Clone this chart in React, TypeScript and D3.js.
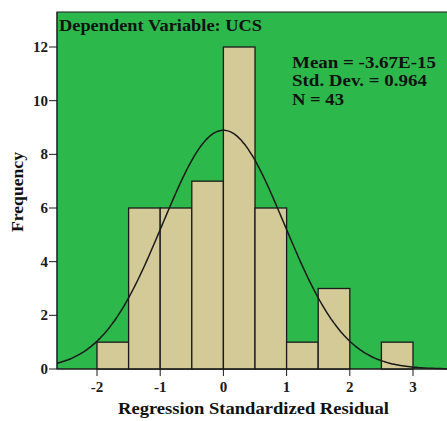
import * as React from 'react';
import * as d3 from 'd3';

// histogram bins (lower edge, width 0.5) and counts
const binStarts = [-2, -1.5, -1, -0.5, 0, 0.5, 1, 1.5, 2, 2.5];
const binCounts = [1, 6, 6, 7, 12, 6, 1, 3, 0, 1];
const binWidth = 0.5;

const xTicks = [-2, -1, 0, 1, 2, 3];
const yTicks = [0, 2, 4, 6, 8, 10, 12];

const statLines = ['Mean = -3.67E-15', 'Std. Dev. = 0.964', 'N = 43'];
const statWidths = [144, 135, 52];
const mean = -3.67e-15;
const stdDev = 0.964;
const n = 43;

const W = 447, H = 421;
const left = 57, top = 12, right = 447, bottom = 369;
const font = '"Liberation Serif", "Times New Roman", serif';

export default function App() {
  const x = d3.scaleLinear().domain([-2, 3]).range([97, 413]);
  const y = d3.scaleLinear().domain([0, 12]).range([bottom, 47]);

  const x0 = x.invert(left), x1 = x.invert(right);
  const curvePts = d3.range(0, 201).map(i => {
    const v = x0 + (x1 - x0) * i / 200;
    const z = (v - mean) / stdDev;
    const f = n * binWidth * Math.exp(-0.5 * z * z) / (stdDev * Math.sqrt(2 * Math.PI));
    return [x(v), y(f)] as [number, number];
  });
  const line = d3.line().curve(d3.curveBasis)(curvePts) || '';

  return (
    <svg width={W} height={H} style={{ position: 'absolute', left: 0, top: 0 }}>
      <rect x={0} y={0} width={W} height={H} fill="#ffffff" />
      <rect x={left} y={top} width={right - left + 2} height={bottom - top} fill="#2db84b" stroke="#1a1a1a" strokeWidth={1} />
      {binStarts.map((s, i) => binCounts[i] > 0 && (
        <rect key={i} x={x(s)} y={y(binCounts[i])} width={x(s + binWidth) - x(s)}
          height={bottom - y(binCounts[i])} fill="#d3ca98" stroke="#1a1a1a" strokeWidth={1.3} />
      ))}
      <path d={line} fill="none" stroke="#1a1a1a" strokeWidth={1.5} />
      <line x1={left} x2={left} y1={top} y2={bottom} stroke="#1a1a1a" />
      <line x1={left} x2={right} y1={bottom} y2={bottom} stroke="#1a1a1a" />
      {yTicks.map(t => (
        <g key={t}>
          <line x1={left - 8} x2={left} y1={y(t)} y2={y(t)} stroke="#1a1a1a" />
          <text x={left - 9} y={y(t) + 5} textAnchor="end" fontFamily={font} fontWeight="bold" fontSize={15} fill="#1a1a1a">{t}</text>
        </g>
      ))}
      {xTicks.map(t => (
        <g key={t}>
          <line x1={x(t)} x2={x(t)} y1={bottom} y2={bottom + 7} stroke="#1a1a1a" />
          <text x={x(t)} y={bottom + 23} textAnchor="middle" fontFamily={font} fontWeight="bold" fontSize={15} fill="#1a1a1a">{t}</text>
        </g>
      ))}
      <text x={59} y={31} fontFamily={font} fontWeight="bold" fontSize={16.5} fill="#111"
        textLength={203} lengthAdjust="spacingAndGlyphs">Dependent Variable: UCS</text>
      {statLines.map((s, i) => (
        <text key={s} x={292} y={67.5 + i * 18.7} fontFamily={font} fontWeight="bold" fontSize={16.5} fill="#111"
          textLength={statWidths[i]} lengthAdjust="spacingAndGlyphs">{s}</text>
      ))}
      <text transform="translate(23, 192) rotate(-90)" textAnchor="middle" fontFamily={font} fontWeight="bold" fontSize={16.5} fill="#111"
        textLength={80} lengthAdjust="spacingAndGlyphs">Frequency</text>
      <text x={118} y={414} fontFamily={font} fontWeight="bold" fontSize={16.5} fill="#111"
        textLength={271} lengthAdjust="spacingAndGlyphs">Regression Standardized Residual</text>
    </svg>
  );
}
